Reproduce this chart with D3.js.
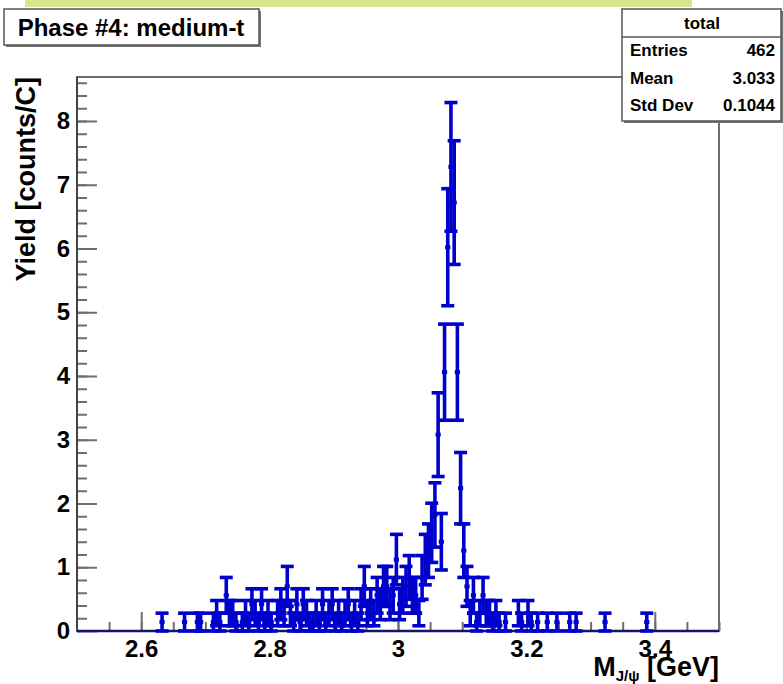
<!DOCTYPE html>
<html>
<head>
<meta charset="utf-8">
<script src="https://cdn.jsdelivr.net/npm/d3@7"></script>
<style>
  body { margin: 0; background: #fff; }
  text { font-family: "Liberation Sans", Arial, sans-serif; font-weight: bold; fill: #000; }
</style>
</head>
<body>
<svg class="chart" width="783" height="684"></svg>
<script>
// histogram binning: 200 bins over 2.5 - 3.5 GeV, counts listed from bin 26 on
const xRange = [2.5, 3.5];
const nBins = 200;
const firstBin = 26;
const counts = [
  1, 0, 0, 0, 0, 0, 0, 1, 0, 0, 0, 1, 1, 0, 0, 0, 1, 2, 1, 0,   // 26-45
  4, 2, 2, 1, 0, 1, 2, 1, 3, 2, 1, 3, 1, 2, 1, 0, 2, 3, 2, 5,   // 46-65
  2, 1, 3, 1, 3, 2, 1, 1, 2, 1, 3, 1, 2, 3, 1, 2, 1, 2, 3, 1,   // 66-85
  2, 1, 3, 5, 2, 3, 2, 4, 3, 5, 5, 3, 4, 8, 3, 4, 5, 6, 4, 4,   // 86-105
  2, 6, 8, 9, 11, 13, 22, 10, 29, 43, 52, 48, 29, 16, 9, 5, 2, 4, 1, 2, // 106-125
  4, 2, 2, 1, 2, 1, 0, 1, 0, 0, 0, 2, 1, 0, 2, 1, 0, 1, 0, 0,   // 126-145
  1, 0, 0, 1, 0, 0, 0, 1, 0, 1, 0, 0, 0, 0, 0, 0, 0, 0, 1, 0,   // 146-165
  0, 0, 0, 0, 0, 0, 0, 0, 0, 0, 0, 1                            // 166-177
];
const yieldPerCount = 0.14; // counts/C for one entry

const xTicks = [2.6, 2.8, 3, 3.2, 3.4];
const yTicks = [0, 1, 2, 3, 4, 5, 6, 7, 8];
const yMax = 8.69;

const titleText = "Phase #4: medium-t";
const statsName = "total";
const statsRows = [["Entries", "462"], ["Mean", "3.033"], ["Std Dev", "0.1044"]];

const svg = d3.select(".chart");
const width = 783;
const height = 684;
const margin = { top: 77, right: 64, bottom: 53, left: 77 };
const graphWidth = width - margin.left - margin.right;
const graphHeight = height - margin.top - margin.bottom;
const blue = "#0000cd";
const grey = "#6e6e6e";

const binWidth = (xRange[1] - xRange[0]) / nBins;
const data = counts.map((n, i) => ({
  lo: xRange[0] + (firstBin + i) * binWidth,
  hi: xRange[0] + (firstBin + i + 1) * binWidth,
  y: n * yieldPerCount,
  err: Math.sqrt(n) * yieldPerCount,
  n: n
}));

const xScale = d3.scaleLinear().domain(xRange).range([0, graphWidth]);
const yScale = d3.scaleLinear().domain([0, yMax]).range([graphHeight, 0]);

// green strip at the very top
svg.append("rect")
  .attr("x", 25).attr("y", 0)
  .attr("width", 667).attr("height", 7)
  .attr("fill", "#d6e78e");

const graph = svg.append("g")
  .attr("transform", `translate(${margin.left}, ${margin.top})`);

// frame
graph.append("rect")
  .attr("width", graphWidth).attr("height", graphHeight)
  .attr("fill", "none").attr("stroke", grey).attr("stroke-width", 2);

// x axis ticks (inside)
const xMinor = graph.append("g")
  .attr("transform", `translate(0, ${graphHeight})`)
  .call(d3.axisBottom(xScale).tickValues(d3.range(2.55, 3.5, 0.05)).tickSize(-9).tickFormat(""));
const xAxisG = graph.append("g")
  .attr("transform", `translate(0, ${graphHeight})`)
  .call(d3.axisBottom(xScale).tickValues(xTicks).tickSize(-19).tickPadding(9).tickFormat(d3.format("")));

// y axis ticks (inside)
const yMinor = graph.append("g")
  .call(d3.axisLeft(yScale).tickValues(d3.range(0.2, yMax, 0.2)).tickSize(-10).tickFormat(""));
const yAxisG = graph.append("g")
  .call(d3.axisLeft(yScale).tickValues(yTicks).tickSize(-20).tickPadding(7));

[xMinor, xAxisG, yMinor, yAxisG].forEach(g => {
  g.select(".domain").remove();
  g.selectAll(".tick line").attr("stroke", grey).attr("stroke-width", 2);
});
xAxisG.selectAll("text").style("font-size", "24px").attr("fill", "#000");
yAxisG.selectAll("text").style("font-size", "24px").attr("fill", "#000");

// left axis line a bit darker
graph.append("line")
  .attr("x1", 0).attr("x2", 0).attr("y1", 0).attr("y2", graphHeight)
  .attr("stroke", "#444").attr("stroke-width", 2);

// histogram with error bars
const hist = graph.append("g")
  .attr("stroke", blue)
  .attr("stroke-width", 3.6)
  .attr("fill", "none");

hist.append("line")
  .attr("x1", 0).attr("x2", graphWidth)
  .attr("y1", yScale(0)).attr("y2", yScale(0))
  .attr("stroke", "#141470").attr("stroke-width", 2.5);

const bins = hist.selectAll(".bin")
  .data(data.filter(d => d.n > 0))
  .enter()
  .append("g")
  .attr("class", "bin");

bins.append("line")
  .attr("x1", d => xScale((d.lo + d.hi) / 2))
  .attr("x2", d => xScale((d.lo + d.hi) / 2))
  .attr("y1", d => yScale(d.y - d.err))
  .attr("y2", d => yScale(d.y + d.err));

bins.append("line")
  .attr("x1", d => xScale(d.lo) - 1)
  .attr("x2", d => xScale(d.hi) + 1)
  .attr("y1", d => yScale(d.y))
  .attr("y2", d => yScale(d.y))
  .attr("stroke-width", 4);

// end caps
[d => d.y + d.err, d => d.y - d.err].forEach(f => {
  bins.append("line")
    .attr("x1", d => xScale((d.lo + d.hi) / 2) - 6.5)
    .attr("x2", d => xScale((d.lo + d.hi) / 2) + 6.5)
    .attr("y1", d => yScale(f(d)))
    .attr("y2", d => yScale(f(d)));
});

// axis titles
svg.append("text")
  .attr("transform", `translate(35, ${margin.top}) rotate(-90)`)
  .attr("text-anchor", "end")
  .style("font-size", "27px")
  .text("Yield [counts/C]");

const xTitle = svg.append("text")
  .attr("x", margin.left + graphWidth)
  .attr("y", 676)
  .attr("text-anchor", "end")
  .style("font-size", "27px");
xTitle.append("tspan").text("M");
xTitle.append("tspan").attr("dy", 5).style("font-size", "15px").text("J/\u03c8");
xTitle.append("tspan").attr("dy", -5).text(" [GeV]");

// title box
svg.append("rect")
  .attr("x", 6).attr("y", 11).attr("width", 255).attr("height", 36)
  .attr("fill", "#777");
svg.append("rect")
  .attr("x", 4).attr("y", 9).attr("width", 255).attr("height", 36)
  .attr("fill", "#fff").attr("stroke", "#555").attr("stroke-width", 1.5);
svg.append("text")
  .attr("x", 131).attr("y", 36)
  .attr("text-anchor", "middle")
  .style("font-size", "24px")
  .text(titleText);

// stats box
const stats = svg.append("g");
stats.append("rect")
  .attr("x", 624).attr("y", 11).attr("width", 160).attr("height", 112)
  .attr("fill", "#777");
stats.append("rect")
  .attr("x", 622).attr("y", 9).attr("width", 159).attr("height", 112)
  .attr("fill", "#fff").attr("stroke", "#555").attr("stroke-width", 1.5);
stats.append("line")
  .attr("x1", 622).attr("x2", 781).attr("y1", 37).attr("y2", 37)
  .attr("stroke", "#555").attr("stroke-width", 1.5);
stats.append("text")
  .attr("x", 702).attr("y", 29)
  .attr("text-anchor", "middle")
  .style("font-size", "17px")
  .text(statsName);
stats.selectAll(".srow")
  .data(statsRows)
  .enter()
  .append("text")
  .attr("x", 630)
  .attr("y", (d, i) => 56 + i * 27.5)
  .style("font-size", "17px")
  .text(d => d[0]);
stats.selectAll(".sval")
  .data(statsRows)
  .enter()
  .append("text")
  .attr("x", 775)
  .attr("y", (d, i) => 56 + i * 27.5)
  .attr("text-anchor", "end")
  .style("font-size", "17px")
  .text(d => d[1]);
</script>
</body>
</html>
